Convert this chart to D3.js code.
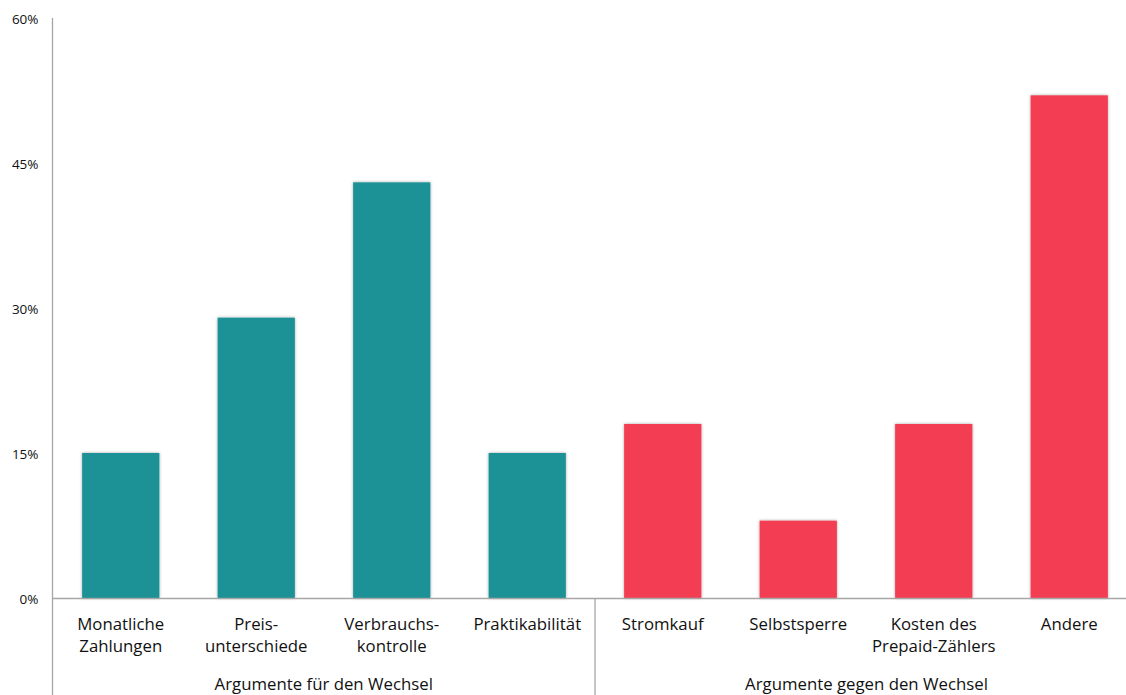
<!DOCTYPE html>
<html>
<head>
<meta charset="utf-8">
<script src="https://cdn.jsdelivr.net/npm/d3@7"></script>
<style>
  body { margin: 0; background: #fff; }
  svg { display: block; }
  text { font-family: "Open Sans", "Liberation Sans", sans-serif; fill: #111; }
</style>
</head>
<body>
<svg id="chart" width="1126" height="695"></svg>
<script>
// Gründe für und gegen den Wechsel zum Prepaid-Zähler (Anteil in %)
const categories = [
  ["Monatliche", "Zahlungen"],
  ["Preis-", "unterschiede"],
  ["Verbrauchs-", "kontrolle"],
  ["Praktikabilität"],
  ["Stromkauf"],
  ["Selbstsperre"],
  ["Kosten des", "Prepaid-Zählers"],
  ["Andere"]
];
const values = [15, 29, 43, 15, 18, 8, 18, 52];
const groups = ["Argumente für den Wechsel", "Argumente gegen den Wechsel"];
const groupOf = [0, 0, 0, 0, 1, 1, 1, 1];
const groupColors = ["#1f9196", "#f23d53"];
const yTicks = [0, 15, 30, 45, 60];

const svg = d3.select("#chart");
const axisX = 52.5, mLeft = 53, mRight = 1137, mTop = 18, mBottom = 598;

const x = d3.scaleBand()
  .domain(d3.range(categories.length))
  .range([mLeft, mRight])
  .paddingInner(0.43)
  .paddingOuter(0.215);

const y = d3.scaleLinear().domain([0, 60]).range([mBottom, mTop]);

const defs = svg.append("defs");
const f = defs.append("filter").attr("id", "shadow")
  .attr("x", "-10%").attr("y", "-10%").attr("width", "120%").attr("height", "120%");
f.append("feDropShadow").attr("dx", 0).attr("dy", 0).attr("stdDeviation", 1.6)
  .attr("flood-color", "#000").attr("flood-opacity", 0.35);

// Bars
svg.append("g").selectAll("rect")
  .data(values)
  .join("rect")
  .attr("x", (d, i) => x(i))
  .attr("width", x.bandwidth())
  .attr("y", d => y(d))
  .attr("height", d => y(0) - y(d))
  .attr("fill", (d, i) => groupColors[groupOf[i]])
  .attr("filter", "url(#shadow)");

// Y axis
const yAxis = svg.append("g").attr("transform", `translate(${axisX},0)`)
  .call(d3.axisLeft(y).tickValues(yTicks).tickSize(0).tickPadding(14).tickFormat(d => d + "%"));
yAxis.select(".domain").remove();
yAxis.selectAll("text").attr("font-size", 13.5).attr("dy", "0.4em");
svg.append("line")
  .attr("x1", axisX).attr("x2", axisX)
  .attr("y1", mTop).attr("y2", 695)
  .attr("stroke", "#a6a6a6").attr("stroke-width", 1.3);

// X axis baseline
svg.append("line")
  .attr("x1", axisX).attr("x2", mRight)
  .attr("y1", mBottom + 0.5).attr("y2", mBottom + 0.5)
  .attr("stroke", "#a6a6a6").attr("stroke-width", 1.3);

// Group separator
const sepX = (x(3) + x.bandwidth() + x(4)) / 2;
svg.append("line")
  .attr("x1", sepX).attr("x2", sepX)
  .attr("y1", mBottom).attr("y2", 695)
  .attr("stroke", "#a6a6a6").attr("stroke-width", 1.3);

// Category labels
const catG = svg.append("g");
categories.forEach((lines, i) => {
  const t = catG.append("text")
    .attr("x", x(i) + x.bandwidth() / 2)
    .attr("y", 630)
    .attr("text-anchor", "middle")
    .attr("font-size", 16.8);
  lines.forEach((ln, j) => {
    t.append("tspan")
      .attr("x", x(i) + x.bandwidth() / 2)
      .attr("dy", j === 0 ? 0 : 22)
      .text(ln);
  });
});

// Group labels
groups.forEach((g, k) => {
  const cx = k === 0 ? (axisX + sepX) / 2 : (sepX + 1126 + 12) / 2;
  svg.append("text")
    .attr("x", cx)
    .attr("y", 690)
    .attr("text-anchor", "middle")
    .attr("font-size", 16.8)
    .text(g);
});
</script>
</body>
</html>
